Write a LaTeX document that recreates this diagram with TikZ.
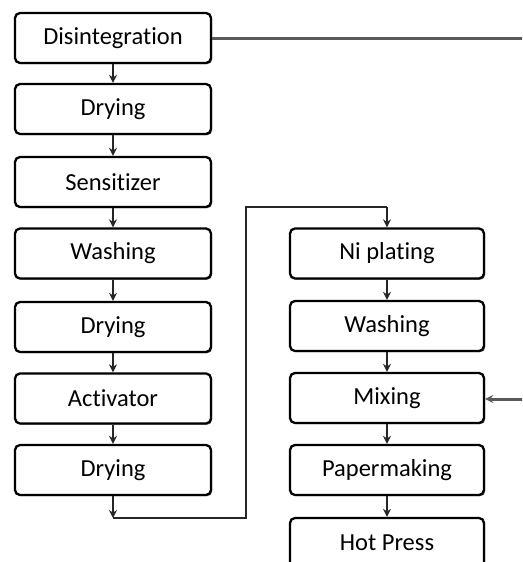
\documentclass[tikz,border=0pt]{standalone}
\usepackage{fontspec}
\setmainfont[Ligatures={NoCommon}]{Carlito}
\usetikzlibrary{arrows.meta,shadows}
\begin{document}
\begin{tikzpicture}[x=1pt,y=-1pt,
  stepbox/.style={draw=black,line width=2.3pt,rounded corners=5pt,fill=white,
    minimum width=196pt,minimum height=50pt,inner sep=0pt,
    font=\fontsize{24.5}{28}\selectfont,
    drop shadow={shadow xshift=1.2pt,shadow yshift=-1.2pt,fill=black!70,opacity=0.8}},
  conn/.style={line width=2pt,draw=black!85,-{Stealth[length=8pt,width=8pt]}},
  plain/.style={line width=2pt,draw=black!85},
  grayline/.style={line width=3pt,draw=black!65}]
\useasboundingbox (0,0) rectangle (522,562);
\clip (0,0) rectangle (522,562);
\fill[white] (0,0) rectangle (522,562);
% left column
\node[stepbox] (dis) at (113,38) {Disintegration};
\node[stepbox] (dry1) at (113,109) {Drying};
\node[stepbox] (sen) at (113,182) {Sensitizer};
\node[stepbox] (wash1) at (113,253.5) {Washing};
\node[stepbox] (dry2) at (113,327) {Drying};
\node[stepbox] (act) at (113,398.5) {Activator};
\node[stepbox] (dry3) at (113,470) {Drying};
% right column
\node[stepbox,minimum width=194pt] (ni) at (387,253.5) {Ni plating};
\node[stepbox,minimum width=194pt] (wash2) at (387,326) {Washing};
\node[stepbox,minimum width=194pt] (mix) at (387,398) {Mixing};
\node[stepbox,minimum width=194pt] (paper) at (387,470) {Papermaking};
\node[stepbox,minimum width=194pt] (hot) at (387,543) {Hot Press};
% coordinates
\coordinate (c1) at (113,518);
\coordinate (c2) at (246,518);
\coordinate (c3) at (246,207);
\coordinate (c4) at (387,207);
\coordinate (e1) at (523,38);
\coordinate (e2) at (523,399);
% connectors
\draw[conn] (dis) -- (dry1);
\draw[conn] (dry1) -- (sen);
\draw[conn] (sen) -- (wash1);
\draw[conn] (wash1) -- (dry2);
\draw[conn] (dry2) -- (act);
\draw[conn] (act) -- (dry3);
\draw[conn] (dry3) -- (c1);
\draw[plain] (c1) -- (c2) -- (c3) -- (c4);
\draw[conn] (c4) -- (ni);
\draw[conn] (ni) -- (wash2);
\draw[conn] (wash2) -- (mix);
\draw[conn] (mix) -- (paper);
\draw[conn] (paper) -- (hot);
\draw[grayline] (dis.east) -- (e1);
\draw[grayline,-{Stealth[length=8pt,width=8pt]}] (e2) -- (mix.east |- e2);
\end{tikzpicture}
\end{document}
